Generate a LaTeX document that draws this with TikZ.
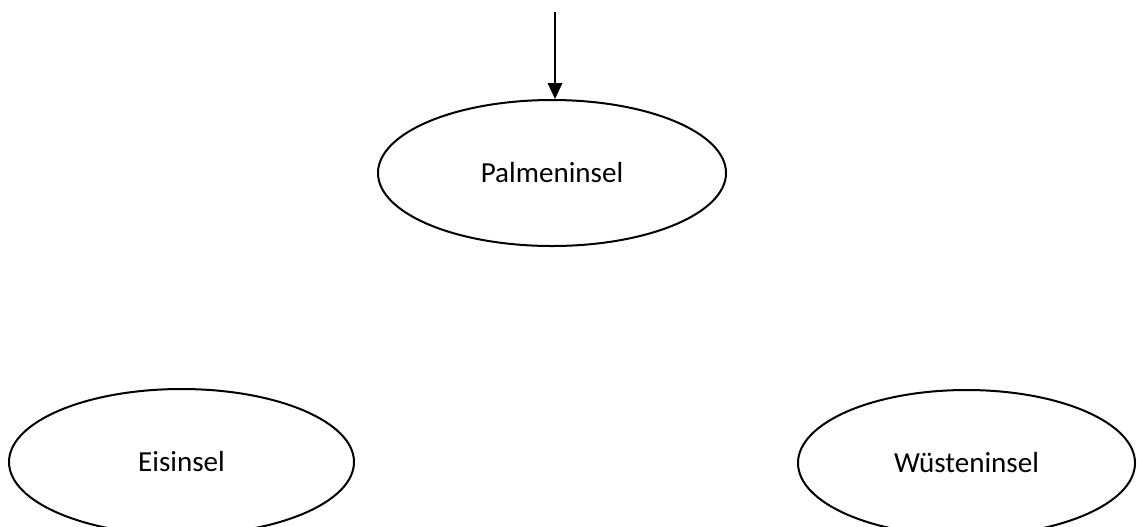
\documentclass[tikz,border=0pt]{standalone}
\usepackage{fontspec}
\setmainfont{Carlito}
\usetikzlibrary{arrows.meta,shapes.geometric}

\begin{document}
\begin{tikzpicture}[x=0.75pt,y=-0.75pt,
    island/.style={draw=black,line width=1.5pt,ellipse,inner sep=0pt,
      minimum height=109.5pt,font=\fontsize{21.8}{26}\selectfont}]
  \useasboundingbox (0,0) rectangle (1137,526);

  \node[island,minimum width=261pt] (palm) at (552,173) {Palmeninsel};
  \node[island,minimum width=258.75pt] (eis) at (181.5,462) {Eisinsel};
  \node[island,minimum width=252.75pt] (wueste) at (966.5,463) {Wüsteninsel};

  \coordinate (top) at (555,12);
  \draw[line width=0.9pt,-{Triangle[length=12pt,width=11pt]}]
    (top) -- (top |- palm.north);
\end{tikzpicture}
\end{document}
